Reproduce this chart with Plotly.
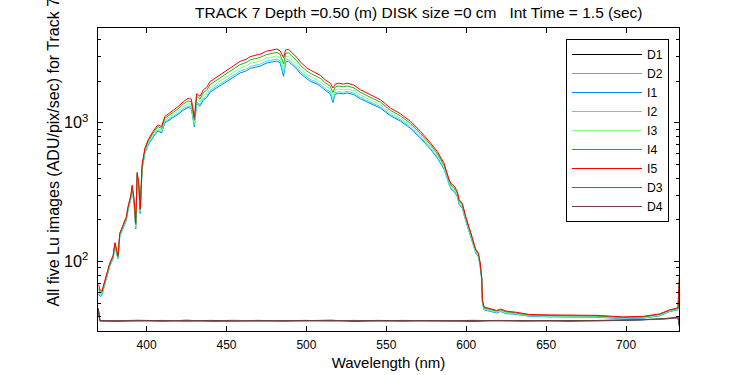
import plotly.graph_objects as go

# ---------------- data ----------------
wl_lu = [370.0, 371.0, 372.0, 373.5, 375.0, 377.0, 379.0, 380.2, 381.0, 382.1,
         383.2, 385.3, 387.4, 388.4, 390.1, 391.0, 392.2, 393.2, 394.1, 395.1,
         396.0, 397.2, 397.8, 398.9, 401.0, 404.0, 407.0, 409.4, 411.4, 415.6,
         419.8, 423.0, 426.0, 428.0, 429.9, 431.3, 433.4, 435.5, 437.6, 439.7,
         446.0, 450.2, 454.3, 458.5, 462.7, 464.8, 471.0, 475.0, 477.3, 479.4,
         481.5, 483.5, 485.7, 487.0, 488.8, 490.9, 494.1, 496.1, 500.3, 502.4,
         506.6, 508.7, 511.8, 514.9, 516.6, 518.0, 520.2, 523.1, 525.5, 529.6,
         533.8, 538.0, 543.2, 546.3, 552.6, 558.9, 565.2, 571.4, 577.7, 581.9,
         586.1, 588.2, 589.2, 590.5, 592.5, 594.4, 595.5, 597.6, 599.7, 602.8,
         606.0, 607.5, 608.6, 609.7, 610.1, 611.2, 616.4, 619.0, 621.6, 625.0,
         631.0, 639.4, 651.9, 668.7, 681.2, 697.9, 710.5, 720.9, 727.2, 732.5,
         733.3]

I5 = [68, 62, 61, 70, 80, 98, 110, 137, 125, 110,
      160, 185, 212, 250, 300, 355, 280, 190, 440, 370,
      240, 500, 570, 655, 755, 865, 965, 940, 1110, 1205,
      1310, 1420, 1500, 1480, 1090, 1620, 1550, 1730, 1800, 1980,
      2220, 2400, 2580, 2770, 2880, 3000, 3120, 3280, 3320, 3360,
      3400, 3300, 2950, 3350, 3380, 3200, 2950, 2750, 2480, 2400,
      2280, 2200, 2040, 1930, 1780, 1900, 1930, 1900, 1930, 1870,
      1730, 1640, 1530, 1465, 1276, 1160, 1022, 866, 714, 621,
      512, 434, 388, 365, 350, 320, 280, 262, 211, 162,
      122, 116, 100, 77, 53, 47, 45, 44.5, 45.5, 44,
      43.2, 41.6, 41.3, 41.3, 41, 40, 40.3, 42, 44.9, 46.5,
      77]

I4 = [64, 60, 60, 69, 79, 96.5, 108, 135, 123, 108,
      157.6, 182, 208, 245.5, 294, 348, 274, 185, 430, 362,
      236, 488, 556, 639, 736, 842, 937.5, 912, 1077, 1165,
      1263, 1365, 1437, 1416, 1045, 1547, 1480, 1650, 1716, 1885,
      2110, 2278, 2448, 2625, 2729, 2840, 2952, 3103, 3141, 3179,
      3217, 3122, 2650, 3169, 3197, 3029, 2795, 2606, 2354, 2278,
      2167, 2091, 1942, 1837, 1650, 1812, 1840, 1815, 1843, 1789,
      1657, 1574, 1470, 1408, 1230, 1120, 988, 839, 693, 602,
      497, 422, 378, 355, 341, 312, 273, 256, 207, 159,
      120, 114, 98, 76, 52, 46.4, 44.5, 44, 45, 43.5,
      42.7, 41.2, 40.9, 40.9, 40.6, 39.6, 39.9, 41.6, 44.5, 46,
      74]

I3 = [62, 58.5, 59, 68, 77.6, 95, 106.7, 133, 121, 107,
      155, 179, 204, 241, 288, 341, 268, 180, 420, 353,
      232, 476, 543, 624, 716.5, 818, 910, 884, 1043, 1125,
      1216, 1309, 1374, 1351, 1000, 1474, 1410, 1569, 1633, 1790,
      2000, 2155, 2317, 2479, 2578, 2680, 2783, 2926, 2961, 2997,
      3033, 2944, 2420, 2988, 3015, 2858, 2640, 2461, 2227, 2155,
      2054, 1982, 1844, 1745, 1530, 1723, 1751, 1729, 1756, 1707,
      1585, 1507, 1411, 1351, 1184, 1080, 955, 811, 671, 584,
      483, 411, 367, 345, 332, 305, 267, 250, 202, 156,
      118, 112, 97, 75, 51.5, 45.7, 43.9, 43.4, 44.4, 43,
      42.3, 40.9, 40.6, 40.6, 40.3, 39.3, 39.6, 41.2, 44.1, 45.7,
      72]

I2 = [60, 57.5, 58, 67, 76.6, 94, 105, 131, 119.7, 105,
      153, 176, 201, 237, 283, 335, 263, 175, 412, 346,
      227, 466, 531, 610, 700, 799, 887, 860, 1016, 1092,
      1176, 1263, 1321, 1298, 960, 1414, 1352, 1502, 1563, 1711,
      1909, 2053, 2207, 2358, 2452, 2546, 2643, 2778, 2812, 2846,
      2880, 2795, 2250, 2837, 2863, 2716, 2511, 2341, 2122, 2053,
      1960, 1891, 1763, 1668, 1450, 1650, 1676, 1658, 1684, 1640,
      1524, 1452, 1361, 1303, 1146, 1047, 926, 789, 653, 568,
      471, 401, 358, 337, 325, 298, 261, 245, 198, 153,
      116, 110, 95, 74, 51, 45.2, 43.5, 43, 44, 42.5,
      41.9, 40.5, 40.2, 40.2, 40, 39, 39.3, 40.9, 43.8, 45.3,
      70]

I1 = [58, 56, 57, 66.5, 76, 93, 104.5, 130, 118.7, 104.5,
      152, 175, 199, 235, 280, 332, 260, 172, 407, 342,
      222, 460, 524, 603, 691, 787, 873, 846, 999, 1072,
      1153, 1235, 1290, 1265, 935, 1377, 1318, 1462, 1521, 1663,
      1854, 1992, 2141, 2285, 2376, 2466, 2558, 2690, 2722, 2755,
      2788, 2706, 2160, 2747, 2772, 2630, 2434, 2269, 2058, 1992,
      1904, 1837, 1714, 1621, 1400, 1606, 1631, 1615, 1640, 1599,
      1488, 1419, 1331, 1275, 1123, 1027, 910, 775, 643, 559,
      463, 395, 353, 332, 320, 294, 258, 242, 196, 151,
      115, 109, 94.5, 73, 50.5, 44.9, 43.2, 42.7, 43.7, 42.2,
      41.7, 40.4, 40, 40, 39.8, 38.8, 39.1, 40.7, 43.6, 45,
      68]

wl_dark = [369.8, 370.8, 380, 395, 410, 425, 440, 455, 470, 485,
           500, 515, 530, 545, 560, 575, 590, 605, 620, 635,
           650, 665, 680, 695, 710, 720, 728, 732.5, 733.3]

D1 = [46, 37.5, 37.2, 37.6, 37.3, 37.8, 37.2, 37.5, 37.7, 37.3,
      37.4, 37.8, 37.2, 37.5, 37.3, 37.6, 37.4, 37.2, 37.7, 37.3,
      37.5, 37.2, 37.6, 37.8, 38.0, 38.4, 39.0, 39.5, 34.5]
D2 = [44, 37.2, 37.6, 37.3, 37.7, 37.2, 37.5, 37.8, 37.3, 37.6,
      37.2, 37.5, 37.7, 37.3, 37.6, 37.2, 37.5, 37.8, 37.3, 37.6,
      37.2, 37.5, 37.3, 37.6, 37.9, 38.3, 38.8, 39.3, 35.0]
D3 = [45, 37.4, 37.5, 37.8, 37.4, 37.6, 37.5, 37.3, 37.6, 37.5,
      37.7, 37.3, 37.6, 37.4, 37.7, 37.4, 37.3, 37.6, 37.5, 37.4,
      37.6, 37.4, 37.5, 37.7, 38.1, 38.5, 39.1, 39.6, 34.8]
D4 = [45, 37.6, 37.3, 37.5, 37.6, 37.3, 37.7, 37.4, 37.5, 37.7,
      37.5, 37.6, 37.4, 37.7, 37.5, 37.5, 37.6, 37.4, 37.6, 37.7,
      37.4, 37.7, 37.4, 37.6, 38.0, 38.4, 39.2, 39.7, 34.6]

series_names = ["D1", "D2", "I1", "I2", "I3", "I4", "I5", "D3", "D4"]
series_colors = ["#000000", "#999999", "#0080ff", "#33e0f0", "#80ff80",
                 "#20b020", "#ff0000", "#8b5050", "#6e3c3c"]

title_text = ("TRACK 7 Depth =0.50 (m) DISK size =0 cm\u00a0\u00a0\u00a0"
              "Int Time = 1.5 (sec)")
ylabel_text = "All five Lu images (ADU/pix/sec) for Track 7"
xlabel_text = "Wavelength (nm)"
x_ticks = [400, 450, 500, 550, 600, 650, 700]

# ---------------- figure ----------------
W, H = 750, 375
ML, MR, MT, MB = 98, 71, 28, 44
PW, PH = W - ML - MR, H - MT - MB

data_map = {"D1": (wl_dark, D1), "D2": (wl_dark, D2), "I1": (wl_lu, I1),
            "I2": (wl_lu, I2), "I3": (wl_lu, I3), "I4": (wl_lu, I4),
            "I5": (wl_lu, I5), "D3": (wl_dark, D3), "D4": (wl_dark, D4)}

fig = go.Figure()
for name, col in zip(series_names, series_colors):
    xs, ys = data_map[name]
    fig.add_trace(go.Scatter(x=xs, y=ys, mode="lines", name=name,
                             line=dict(color=col, width=1)))

font_family = "Liberation Sans, Arial, sans-serif"

fig.update_layout(
    template="none",
    width=W, height=H,
    margin=dict(l=ML, r=MR, t=MT, b=MB, pad=0, autoexpand=False),
    paper_bgcolor="white", plot_bgcolor="white",
    font=dict(family=font_family, size=12, color="black"),
    showlegend=True,
    legend=dict(x=(669 - ML) / PW, xanchor="right",
                y=(MT + PH - 39) / PH, yanchor="top",
                bgcolor="white", bordercolor="black", borderwidth=1,
                font=dict(size=12.2, family=font_family, color="black"),
                itemwidth=70, tracegroupgap=0),
    xaxis=dict(range=[369.6, 733.1], tickvals=x_ticks, automargin=False,
               ticks="inside", ticklen=5, tickcolor="black", tickwidth=1,
               showline=True, linecolor="black", linewidth=1, mirror="ticks",
               showgrid=False, zeroline=False,
               tickfont=dict(size=12, color="black"), ticklabelstandoff=3,
               title=dict(text=xlabel_text, font=dict(size=15, color="black"),
                          standoff=6)),
    yaxis=dict(type="log", range=[1.5, 3.683], dtick=1, automargin=False,
               exponentformat="power",
               ticks="inside", ticklen=5, tickcolor="black", tickwidth=1,
               showline=True, linecolor="black", linewidth=1, mirror="ticks",
               showgrid=False, zeroline=False,
               tickfont=dict(size=13, color="black"), ticklabelstandoff=6,
               minor=dict(ticks="inside", ticklen=3, tickcolor="black",
                          tickwidth=1, dtick="D1", showgrid=False)),
    annotations=[
        dict(text=title_text, xref="paper", yref="paper",
             x=(418.5 - ML) / PW, y=(MT + PH - 12) / PH,
             xanchor="center", yanchor="middle", showarrow=False,
             font=dict(size=15.5, family=font_family, color="black")),
        dict(text=ylabel_text, xref="paper", yref="paper",
             x=(53 - ML) / PW, y=(MT + PH - 152.5) / PH,
             xanchor="center", yanchor="middle", textangle=-90,
             showarrow=False,
             font=dict(size=16, family=font_family, color="black")),
    ],
)

fig.write_html("out.html", config={"displayModeBar": False},
               post_script="document.body.style.margin='0';"
                           "document.body.style.padding='0';")
